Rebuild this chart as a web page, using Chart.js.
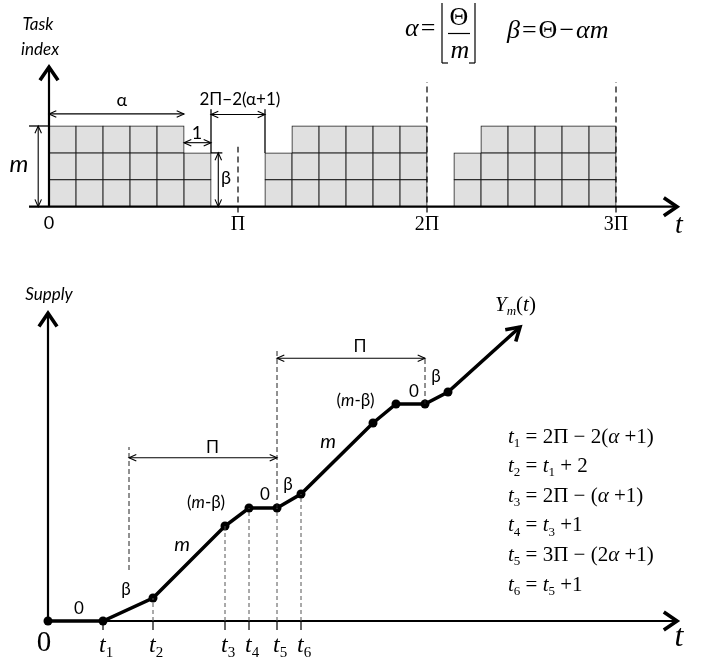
<!DOCTYPE html>
<html>
<head>
<meta charset="utf-8">
<script src="https://cdn.jsdelivr.net/npm/chart.js@4.4.1/dist/chart.umd.min.js"></script>
<style>
  body { margin: 0; background: #fff; }
  #wrap { position: relative; width: 709px; height: 660px; }
  canvas { position: absolute; left: 0; }
  #schedule { top: 0; }
  #supply { top: 260px; }
</style>
</head>
<body>
<div id="wrap">
  <canvas id="schedule" width="709" height="260"></canvas>
  <canvas id="supply" width="709" height="400"></canvas>
</div>
<script>
// tasks running in each unit time slot (m = 3, alpha = 5, beta = 2, period = 7)
const columnHeights = [3, 3, 3, 3, 3, 2, 0, 0, 2, 3, 3, 3, 3, 3, 0, 2, 3, 3, 3, 3, 3];
const periodTicks = [0, 7, 14, 21];
const periodLabels = ['0', 'Π', '2Π', '3Π'];

// supply curve Y_m(t), schematic units
const supplyX = [0, 5.5, 10.5, 17.7, 20.1, 22.9, 25.3, 32.5, 34.8, 37.7, 40.0, 47.2];
const supplyY = [0, 0, 2.3, 9.5, 11.3, 11.3, 12.7, 19.8, 21.7, 21.7, 22.9, 29.4];
const tNames = ['1', '2', '3', '4', '5', '6'];
const tIndex = [1, 2, 3, 4, 5, 6];

const SANS = 'Lato, "Open Sans", sans-serif';
const SERIF = '"Liberation Serif", "DejaVu Serif", serif';

// mixed-style text: parts are [text, style], style r / i / s (subscript) / si
function rich(ctx, parts, x, y, family, size, align, base, gap) {
    const fontOf = st => (st === 'i' || st === 'si' ? 'italic ' : '') +
        (st[0] === 's' ? Math.round(size * 0.62) : size) + 'px ' + family;
    const g = gap || 0;
    let w = 0;
    for (const [t, st] of parts) { ctx.font = fontOf(st); w += ctx.measureText(t).width + g; }
    let cx = align === 'center' ? x - w / 2 : align === 'right' ? x - w : x;
    ctx.textAlign = 'left';
    ctx.textBaseline = base || 'middle';
    for (const [t, st] of parts) {
        ctx.font = fontOf(st);
        ctx.fillText(t, cx, y + (st[0] === 's' ? size * 0.3 : 0));
        cx += ctx.measureText(t).width + g;
    }
}

function text(ctx, s, x, y, font, align, base) {
    ctx.font = font;
    ctx.textAlign = align || 'center';
    ctx.textBaseline = base || 'middle';
    ctx.fillText(s, x, y);
}

function line(ctx, x1, y1, x2, y2, lw, dash, color) {
    ctx.save();
    ctx.strokeStyle = color || '#000';
    ctx.lineWidth = lw;
    ctx.setLineDash(dash || []);
    ctx.beginPath();
    ctx.moveTo(x1, y1);
    ctx.lineTo(x2, y2);
    ctx.stroke();
    ctx.restore();
}

function head(ctx, x, y, ang, len, spread, lw) {
    ctx.save();
    ctx.lineWidth = lw;
    ctx.lineJoin = 'miter';
    ctx.beginPath();
    ctx.moveTo(x - len * Math.cos(ang - spread), y - len * Math.sin(ang - spread));
    ctx.lineTo(x, y);
    ctx.lineTo(x - len * Math.cos(ang + spread), y - len * Math.sin(ang + spread));
    ctx.stroke();
    ctx.restore();
}

// thin dimension arrow with heads on both ends
function dim(ctx, x1, y1, x2, y2) {
    line(ctx, x1, y1, x2, y2, 1.1);
    const a = Math.atan2(y2 - y1, x2 - x1);
    head(ctx, x2, y2, a, 8, 0.42, 1.1);
    head(ctx, x1, y1, a + Math.PI, 8, 0.42, 1.1);
}

// thick axis with chevron tip
function axis(ctx, x1, y1, x2, y2) {
    line(ctx, x1, y1, x2, y2, 2.2);
    head(ctx, x2, y2, Math.atan2(y2 - y1, x2 - x1), 16, 0.6, 3.6);
}

const scheduleMarks = {
    id: 'scheduleMarks',
    afterDatasetsDraw(chart) {
        const ctx = chart.ctx;
        const X = v => chart.scales.x.getPixelForValue(v);
        const Y = v => chart.scales.y.getPixelForValue(v);
        ctx.save();
        ctx.fillStyle = '#000';
        ctx.strokeStyle = '#000';

        axis(ctx, X(-0.74), Y(0), X(23.26), Y(0));
        axis(ctx, X(0), Y(0), X(0), Y(5.19));
        line(ctx, X(-0.74), Y(3), X(0), Y(3), 1.3);

        // dimension arrows
        dim(ctx, X(-0.4), Y(0), X(-0.4), Y(3));
        dim(ctx, X(0), Y(3.45), X(5), Y(3.45));
        dim(ctx, X(5), Y(2.38), X(6), Y(2.38));
        line(ctx, X(6), Y(2), X(6), Y(3.62), 1.3);
        line(ctx, X(8), Y(2), X(8), Y(3.62), 1.3);
        dim(ctx, X(6), Y(3.43), X(8), Y(3.43));
        dim(ctx, X(6.27), Y(0), X(6.27), Y(2));
        line(ctx, X(6), Y(2), X(6.42), Y(2), 1.3);

        // period markers
        line(ctx, X(7), Y(-0.22), X(7), Y(2.23), 1.2, [6, 4]);
        line(ctx, X(14), Y(-0.22), X(14), Y(4.64), 1.2, [6, 4]);
        line(ctx, X(21), Y(-0.22), X(21), Y(4.64), 1.2, [6, 4]);

        periodTicks.forEach((p, i) => {
            if (i === 0) text(ctx, periodLabels[i], X(p), Y(-0.61), '18px ' + SANS);
            else text(ctx, periodLabels[i], X(p), Y(-0.66), '20px ' + SERIF);
        });
        text(ctx, 't', X(23.33), Y(-0.72), 'italic 28px ' + SERIF);

        text(ctx, 'Task', X(-0.41), Y(6.79), 'italic 17px ' + SANS);
        text(ctx, 'index', X(-0.33), Y(5.83), 'italic 17px ' + SANS);
        text(ctx, 'm', X(-1.11), Y(1.59), 'italic 24px ' + SANS);
        text(ctx, 'α', X(2.7), Y(3.97), '18px ' + SANS);
        text(ctx, '1', X(5.48), Y(2.75), '18px ' + SANS);
        text(ctx, '2Π−2(α+1)', X(7.07), Y(3.97), '17px ' + SANS);
        text(ctx, 'β', X(6.56), Y(1.07), '18px ' + SANS);

        // alpha = floor(Theta / m),  beta = Theta - alpha m
        rich(ctx, [['α', 'i'], ['=', 'r']], 405, 36, SERIF, 26, 'left', 'alphabetic', 2);
        line(ctx, 442, 3, 442, 63, 1.2);
        line(ctx, 442, 63, 448, 63, 1.2);
        line(ctx, 475, 3, 475, 63, 1.2);
        line(ctx, 475, 63, 469, 63, 1.2);
        line(ctx, 448, 33.5, 470, 33.5, 1.2);
        text(ctx, 'Θ', 459, 25, '26px ' + SERIF, 'center', 'alphabetic');
        text(ctx, 'm', 460, 58, 'italic 26px ' + SERIF, 'center', 'alphabetic');
        rich(ctx, [['β', 'i'], ['=', 'r'], ['Θ', 'r'], ['−', 'r'], ['αm', 'i']], 507, 38, SERIF, 26, 'left', 'alphabetic', 2);
        ctx.restore();
    }
};

const supplyMarks = {
    id: 'supplyMarks',
    afterDatasetsDraw(chart) {
        const ctx = chart.ctx;
        const X = v => chart.scales.x.getPixelForValue(v);
        const Y = v => chart.scales.y.getPixelForValue(v);
        ctx.save();
        ctx.fillStyle = '#000';

        axis(ctx, X(0), Y(0), X(62.9), Y(0));
        axis(ctx, X(0), Y(0), X(0), Y(30.77));

        // t_i ticks, guide lines and labels
        tIndex.forEach((k, i) => {
            const px = X(supplyX[k]);
            line(ctx, px, Y(0), px, Y(0) + 9, 1.2);
            if (supplyY[k] > 0) line(ctx, px, Y(0), px, Y(supplyY[k]), 1, [4, 3], '#555');
            rich(ctx, [['t', 'i'], [tNames[i], 's']], px - 4, Y(-2.45), SERIF, 24, 'left');
        });
        line(ctx, X(supplyX[5]), Y(supplyY[5]), X(supplyX[5]), Y(27.1), 1, [5, 3], '#222');
        line(ctx, X(8.1), Y(5.1), X(8.1), Y(17.4), 1, [5, 3], '#222');
        line(ctx, X(supplyX[9]), Y(supplyY[9]), X(supplyX[9]), Y(26.27), 1, [5, 3], '#222');
        dim(ctx, X(8.1), Y(16.33), X(supplyX[5]), Y(16.33));
        dim(ctx, X(supplyX[5]), Y(26.27), X(supplyX[9]), Y(26.27));

        // arrow tip at the end of the curve
        const n = supplyX.length;
        const a = Math.atan2(Y(supplyY[n - 1]) - Y(supplyY[n - 2]), X(supplyX[n - 1]) - X(supplyX[n - 2]));
        head(ctx, X(supplyX[n - 1]), Y(supplyY[n - 1]), a, 15, 0.55, 3.6);

        text(ctx, 'Supply', X(0.1), Y(32.6), 'italic 17px ' + SANS);
        text(ctx, '0', X(-0.4), Y(-2.2), '29px ' + SERIF);
        text(ctx, 't', X(63.1), Y(-1.7), 'italic 32px ' + SERIF);
        text(ctx, 'Π', X(16.45), Y(17.3), '17px ' + SANS);
        text(ctx, 'Π', X(31.2), Y(27.43), '17px ' + SANS);

        const small = '17px ' + SANS;
        text(ctx, '0', X(3.1), Y(1.25), small);
        text(ctx, 'β', X(7.8), Y(3.1), small);
        text(ctx, 'm', X(13.4), Y(7.6), 'italic 20px ' + SANS);
        rich(ctx, [['(', 'r'], ['m', 'i'], ['-β)', 'r']], X(15.8), Y(11.8), SANS, 17, 'center');
        text(ctx, '0', X(21.7), Y(12.6), small);
        text(ctx, 'β', X(24.0), Y(13.6), small);
        text(ctx, 'm', X(28.0), Y(17.9), 'italic 20px ' + SANS);
        rich(ctx, [['(', 'r'], ['m', 'i'], ['-β)', 'r']], X(30.75), Y(22.0), SANS, 17, 'center');
        text(ctx, '0', X(36.6), Y(22.9), small);
        text(ctx, 'β', X(38.8), Y(24.4), small);

        rich(ctx, [['Y', 'i'], ['m', 'si'], ['(', 'r'], ['t', 'i'], [')', 'r']], X(44.7), Y(31.6), SERIF, 21, 'left');

        const eqs = [
            [['t', 'i'], ['1', 's'], [' = 2Π − 2(', 'r'], ['α', 'i'], [' +1)', 'r']],
            [['t', 'i'], ['2', 's'], [' = ', 'r'], ['t', 'i'], ['1', 's'], [' + 2', 'r']],
            [['t', 'i'], ['3', 's'], [' = 2Π − (', 'r'], ['α', 'i'], [' +1)', 'r']],
            [['t', 'i'], ['4', 's'], [' = ', 'r'], ['t', 'i'], ['3', 's'], [' +1', 'r']],
            [['t', 'i'], ['5', 's'], [' = 3Π − (2', 'r'], ['α', 'i'], [' +1)', 'r']],
            [['t', 'i'], ['6', 's'], [' = ', 'r'], ['t', 'i'], ['5', 's'], [' +1', 'r']]
        ];
        eqs.forEach((parts, i) => rich(ctx, parts, X(46.0), Y(18.4 - 2.96 * i), SERIF, 21, 'left'));
        ctx.restore();
    }
};

const rowCount = Math.max(...columnHeights);
const rowSets = [];
for (let r = 0; r < rowCount; r++) {
    rowSets.push({
        label: 'row ' + (r + 1),
        data: columnHeights.map((h, c) => (h > r ? { x: c + 0.5, y: [r, r + 1] } : null)).filter(Boolean),
        backgroundColor: '#e0e0e0',
        borderColor: '#1a1a1a',
        borderWidth: 1,
        inflateAmount: 0.5,
        borderSkipped: false,
        grouped: false,
        barPercentage: 1,
        categoryPercentage: 1
    });
}

new Chart(document.getElementById('schedule'), {
    type: 'bar',
    data: { datasets: rowSets },
    options: {
        responsive: false,
        animation: false,
        devicePixelRatio: 1,
        events: [],
        layout: { padding: { left: 49, right: 12, top: 58.75, bottom: 53.3 } },
        plugins: { legend: { display: false }, tooltip: { enabled: false } },
        scales: {
            x: { type: 'linear', min: 0, max: 24, offset: false, display: false, ticks: { stepSize: 6 } },
            y: { min: 0, max: 5.5, display: false }
        }
    },
    plugins: [scheduleMarks]
});

new Chart(document.getElementById('supply'), {
    type: 'line',
    data: {
        datasets: [{
            label: 'Y_m(t)',
            data: supplyX.map((x, i) => ({ x, y: supplyY[i] })),
            borderColor: '#000',
            borderWidth: 3.5,
            tension: 0,
            pointRadius: ctx => (ctx.dataIndex === supplyX.length - 1 ? 0 : 4.5),
            pointBackgroundColor: '#000',
            pointBorderWidth: 0,
            clip: false
        }]
    },
    options: {
        responsive: false,
        animation: false,
        devicePixelRatio: 1,
        events: [],
        layout: { padding: { left: 48, right: 31, top: 51, bottom: 39 } },
        plugins: { legend: { display: false }, tooltip: { enabled: false } },
        scales: {
            x: { type: 'linear', min: 0, max: 63, display: false },
            y: { min: 0, max: 31, display: false }
        }
    },
    plugins: [supplyMarks]
});
</script>
</body>
</html>
